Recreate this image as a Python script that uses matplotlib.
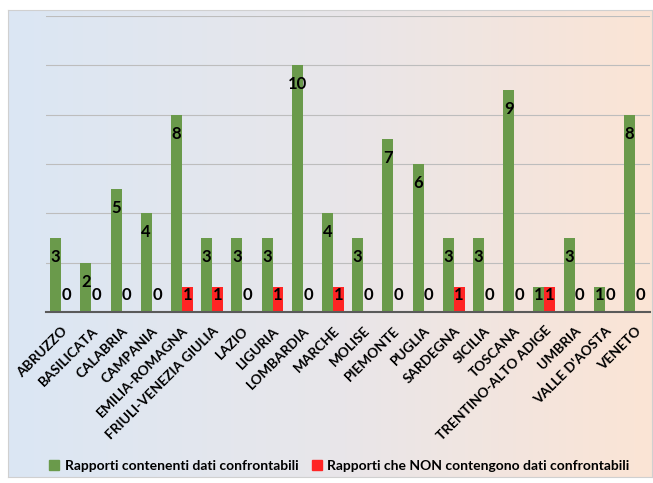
import numpy as np
import matplotlib.pyplot as plt
from matplotlib.colors import LinearSegmentedColormap
from matplotlib.patches import Patch

regioni = ["ABRUZZO", "BASILICATA", "CALABRIA", "CAMPANIA", "EMILIA-ROMAGNA",
           "FRIULI-VENEZIA GIULIA", "LAZIO", "LIGURIA", "LOMBARDIA", "MARCHE",
           "MOLISE", "PIEMONTE", "PUGLIA", "SARDEGNA", "SICILIA", "TOSCANA",
           "TRENTINO-ALTO ADIGE", "UMBRIA", "VALLE D'AOSTA", "VENETO"]
confrontabili = [3, 2, 5, 4, 8, 3, 3, 3, 10, 4, 3, 7, 6, 3, 3, 9, 1, 3, 1, 8]
non_confrontabili = [0, 0, 0, 0, 1, 1, 0, 1, 0, 1, 0, 0, 0, 1, 0, 0, 1, 0, 0, 0]

green = "#6a9a4b"
red = "#ff2424"

fig = plt.figure(figsize=(6.53, 4.83), dpi=100)

# gradient background frame
bg = fig.add_axes([8 / 653, 1 - 477 / 483, 644 / 653, 467 / 483])
cmap = LinearSegmentedColormap.from_list("bg", ["#dbe7f4", "#e8e6ea", "#fbe4d5"])
bg.imshow(np.linspace(0, 1, 256).reshape(1, -1), aspect="auto", cmap=cmap,
          extent=[0, 1, 0, 1])
bg.set_xticks([])
bg.set_yticks([])
for s in bg.spines.values():
    s.set_color("#d0d0d0")

ax = fig.add_axes([46 / 653, 1 - 312 / 483, 604 / 653, 296 / 483])
ax.patch.set_alpha(0)

x = np.arange(len(regioni))
w = 0.36
ax.bar(x - w / 2, confrontabili, w, color=green, zorder=3)
ax.bar(x + w / 2, non_confrontabili, w, color=red, zorder=3)

for i in x:
    for val, off in ((confrontabili[i], -w / 2), (non_confrontabili[i], w / 2)):
        ax.text(i + off, max(val - 0.77, 0.69), str(val), ha="center", va="center",
                fontsize=12, fontweight="bold", family="Lato", zorder=4)

ax.set_xlim(-0.5, len(regioni) - 0.5)
ax.set_ylim(0, 12)
ax.set_yticks(range(0, 13, 2))
ax.yaxis.grid(True, color="#bdbdbd", linewidth=0.8, zorder=0)
ax.tick_params(axis="y", left=False, labelleft=False)
ax.tick_params(axis="x", length=0, pad=9)
ax.set_xticks(x)
ax.set_xticklabels(regioni, rotation=45, ha="right", rotation_mode="anchor",
                   fontsize=9.8, fontweight="bold", family="Lato")
for s in ["top", "right", "left"]:
    ax.spines[s].set_visible(False)
ax.spines["bottom"].set_color("#5a5a5a")
ax.spines["bottom"].set_linewidth(1.5)
ax.spines["bottom"].set_zorder(5)

handles = [Patch(color=green, label="Rapporti contenenti dati confrontabili"),
           Patch(color=red, label="Rapporti che NON contengono dati confrontabili")]
fig.legend(handles=handles, loc="center", bbox_to_anchor=(0.52, 0.035), ncol=2,
           frameon=False, handlelength=0.7, handleheight=0.7, handletextpad=0.4,
           columnspacing=1.0, prop={"family": "Lato", "weight": "bold", "size": 10})

plt.savefig("out.png", dpi=100)
